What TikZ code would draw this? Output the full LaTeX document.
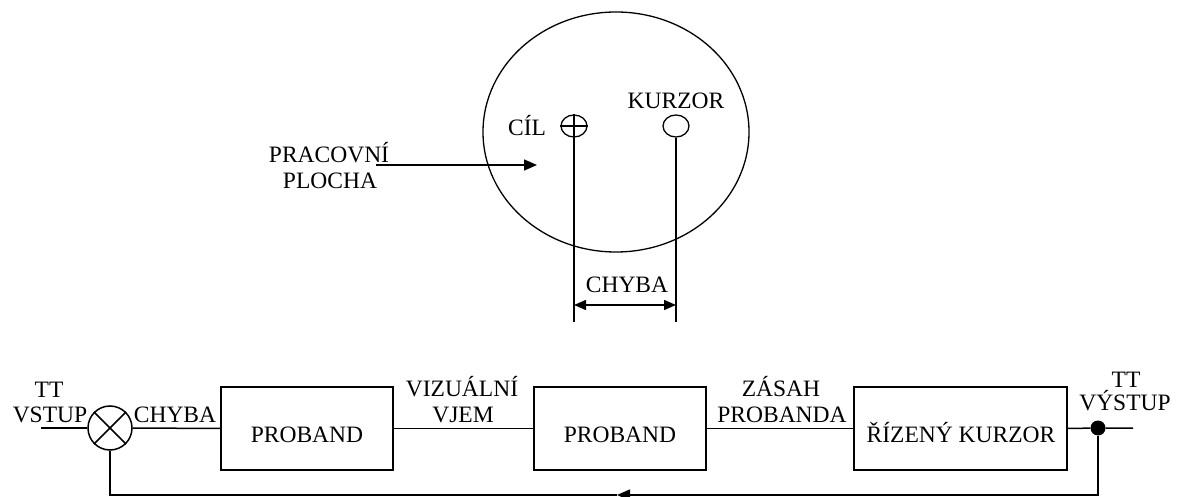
\documentclass[tikz,border=0pt]{standalone}
\usepackage{fontspec}
\setmainfont{Liberation Serif}
\usetikzlibrary{arrows.meta,shapes.geometric}
\begin{document}
\begin{tikzpicture}[x=1pt,y=-1pt,
  every node/.style={font=\fontsize{23.5}{27}\selectfont},
  lbl/.style={anchor=base,inner sep=0pt},
  blk/.style={draw,line width=1.5pt,inner sep=0pt},
  ln/.style={line width=1.5pt},
  tip/.style={-{Triangle[length=13pt,width=11pt]}},
  dtip/.style={{Triangle[length=12pt,width=10pt]}-{Triangle[length=12pt,width=10pt]}}]
\useasboundingbox (0,0) rectangle (1179,497);

% ---- upper picture ----
\node[draw,ellipse,line width=1.3pt,minimum width=266pt,minimum height=240pt,inner sep=0pt] (plate) at (616,132) {};
\node[draw,ellipse,line width=1.3pt,minimum width=26pt,minimum height=22pt,inner sep=0pt] (cil) at (574,126) {};
\node[draw,ellipse,line width=1.3pt,minimum width=26pt,minimum height=22pt,inner sep=0pt] (kur) at (676,126) {};
\node[lbl] (cilt) at (527,136) {CÍL};
\node[lbl] (kurt) at (676,109) {KURZOR};
\node[lbl] (chyt) at (627,293) {CHYBA};
\node[lbl] (prac) at (329,163) {PRACOVNÍ};
\node[lbl] (ploc) at (330,189) {PLOCHA};

\coordinate (cilend) at (574,322);
\coordinate (kurend) at (676,322);
\coordinate (dl) at (574,305);
\coordinate (dr) at (676,305);
\coordinate (pa) at (376,165);
\coordinate (pb) at (537,165);

\draw[ln,line width=1.3pt] (cil.west) -- (cil.east);
\draw[ln,line width=1.3pt] (cil.north) -- (cilend);
\draw[ln,line width=1.3pt] (kur.south) -- (kurend);
\draw[ln,dtip] (dl) -- (dr);
\draw[ln,tip] (pa) -- (pb);

% ---- block diagram ----
\node[draw,circle,line width=1.5pt,minimum size=44pt,inner sep=0pt] (sum) at (110,428) {};
\draw[ln] (sum.north west) -- (sum.south east);
\draw[ln] (sum.north east) -- (sum.south west);

\node[blk,minimum width=172pt,minimum height=83pt] (p1) at (307,428.5) {};
\node[blk,minimum width=172pt,minimum height=83pt] (p2) at (620,428.5) {};
\node[blk,minimum width=213pt,minimum height=83pt] (p3) at (960.5,428.5) {};
\node[lbl] (p1t) at (307,442) {PROBAND};
\node[lbl] (p2t) at (620,442) {PROBAND};
\node[lbl] (p3t) at (961,442) {ŘÍZENÝ KURZOR};

\node[lbl] (tt1) at (49,397) {TT};
\node[lbl] (vst) at (50,422) {VSTUP};
\node[lbl] (chy2) at (175,422) {CHYBA};
\node[lbl] (viz) at (462,396) {VIZUÁLNÍ};
\node[lbl] (vjem) at (463,422) {VJEM};
\node[lbl] (zas) at (781,396) {ZÁSAH};
\node[lbl] (prob) at (782,422) {PROBANDA};
\node[lbl] (tt2) at (1126,387) {TT};
\node[lbl] (vys) at (1125,410) {VÝSTUP};

\node[circle,fill,inner sep=0pt,minimum size=15pt] (dot) at (1098,428) {};
\coordinate (in) at (41,428);
\coordinate (out) at (1133,428);
\coordinate (fbarrow) at (617,495);

\draw[ln] (in) -- (sum.west);
\draw[ln] (sum.east) -- (p1.west);
\draw[ln] (p1.east) -- (p2.west);
\draw[ln] (p2.east) -- (p3.west);
\draw[ln] (p3.east) -- (dot) -- (out);
\draw[ln,tip] (dot) |- (fbarrow);
\draw[ln] (fbarrow) -| (sum.south);
\end{tikzpicture}
\end{document}
